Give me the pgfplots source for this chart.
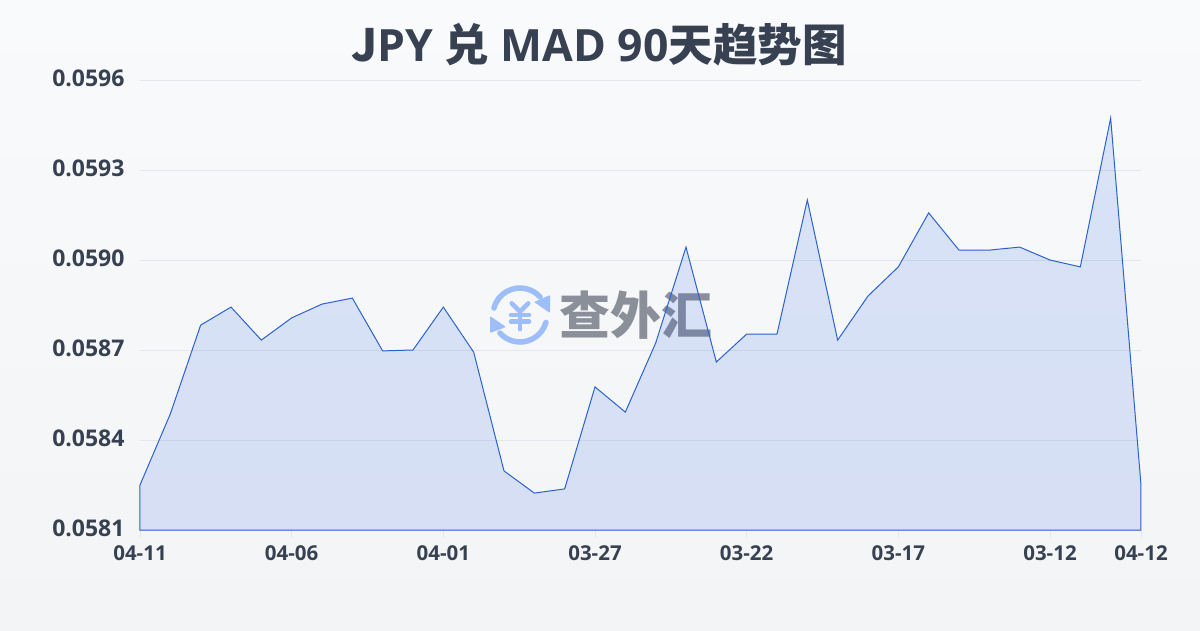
\documentclass[border=0pt]{standalone}
\usepackage{pgfplots}
\pgfplotsset{compat=1.18}
\usepackage{fontspec}
\setmainfont{Open Sans}
\newfontfamily\cjk{Noto Sans CJK SC}
\definecolor{txt}{HTML}{374151}
\definecolor{linec}{HTML}{2B62D0}
\definecolor{fillc}{HTML}{2A62E0}
\definecolor{gridc}{HTML}{E3E6EC}
\definecolor{bgtop}{HTML}{F8FAFC}
\definecolor{bgbot}{HTML}{F3F4F6}
\definecolor{wm}{HTML}{8B8F99}
\definecolor{iconc}{HTML}{9DBEF8}
\pgfplotstableread{
x y
0 0.05825
1 0.058487
2 0.058783
3 0.058843
4 0.058733
5 0.058807
6 0.058853
7 0.058873
8 0.058697
9 0.0587
10 0.058843
11 0.058693
12 0.058297
13 0.058223
14 0.058237
15 0.058577
16 0.058493
17 0.058723
18 0.059043
19 0.05866
20 0.058753
21 0.058753
22 0.0592
23 0.058733
24 0.05888
25 0.058977
26 0.059157
27 0.059033
28 0.059033
29 0.059043
30 0.0590
31 0.058977
32 0.059473
33 0.05825
}\rates
\begin{document}
\begin{tikzpicture}[x=1pt,y=1pt]
\path[top color=bgtop,bottom color=bgbot] (0,0) rectangle (1200,630);
\node[anchor=center,font=\bfseries\fontsize{44.5}{50}\selectfont,text=txt] at (599,585) {{\cjk J}PY {\cjk 兑} MAD 90{\cjk 天趋势图}};
% watermark
\begin{scope}[line width=5.5pt,line cap=round,draw=iconc,fill=iconc]
\draw (520,315)++(165:27) arc[start angle=165,end angle=42,radius=27];
\draw (520,315)++(-16:27) arc[start angle=-16,end angle=-138,radius=27];
\fill[rounded corners=1pt] (550,335) -- (550,317) -- (534,328) -- cycle;
\fill[rounded corners=1pt] (490,314) -- (490,297) -- (506,303) -- cycle;
\draw[line width=4.5pt] (511.7,326.7) -- (520,318.3) -- (528.3,326.7);
\draw[line width=4.5pt] (520,318.3) -- (520,300.7);
\draw[line width=4.5pt] (511,315) -- (529,315);
\draw[line width=4.5pt] (511,308.3) -- (529,308.3);
\end{scope}
\node[anchor=center,font=\cjk\bfseries\fontsize{51}{54}\selectfont,text=wm] at (635.5,315) {查外汇};
\begin{axis}[
  at={(140pt,100pt)},anchor=south west,
  scale only axis,width=1001pt,height=450pt,
  xmin=0,xmax=33,ymin=0.0581,ymax=0.0596,
  axis line style={draw=none},
  scaled y ticks=false,
  ytick={0.0581,0.0584,0.0587,0.0590,0.0593,0.0596},
  yticklabels={0.0581,0.0584,0.0587,0.0590,0.0593,0.0596},
  xtick={0,5,10,15,20,25,30,33},
  xticklabels={04-11,04-06,04-01,03-27,03-22,03-17,03-12,04-12},
  xticklabel style={font=\bfseries\fontsize{20.5}{23}\selectfont,text=txt,yshift=-4pt},
  yticklabel style={font=\bfseries\fontsize{23}{25}\selectfont,text=txt,xshift=-12pt,yshift=2pt},
  ymajorgrids,
  grid style={draw=gridc,line width=0.8pt},
  major tick length=8pt,
  xtick style={draw=gridc,line width=0.8pt},
  ytick style={draw=none},
  xtick align=outside,
  tick pos=lower,
  clip=false,
]
\addplot[draw=none,fill=fillc,fill opacity=0.145] table[x=x,y=y]{\rates} \closedcycle;
\addplot[draw=linec,line width=1pt] table[x=x,y=y]{\rates} \closedcycle;
\end{axis}
\end{tikzpicture}
\end{document}
